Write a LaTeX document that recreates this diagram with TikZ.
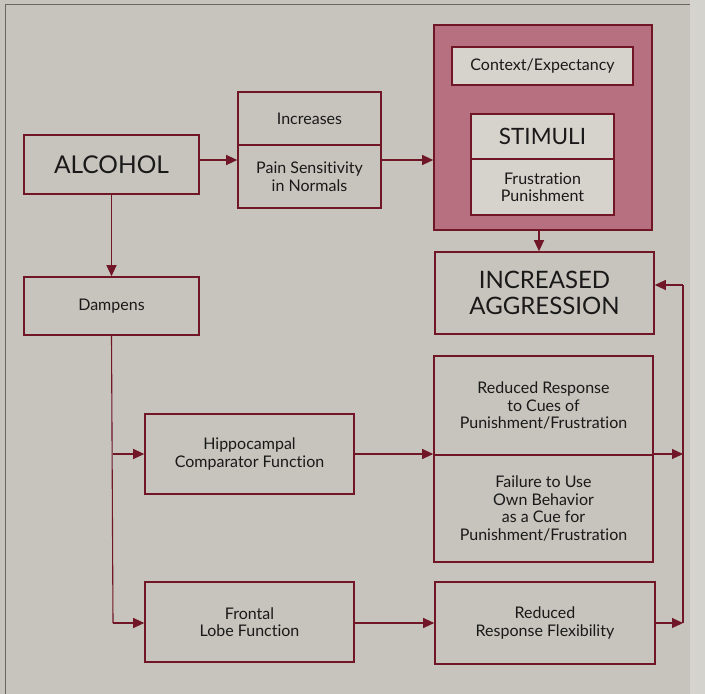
\documentclass[tikz,border=0pt]{standalone}
\usepackage{fontspec}
\setmainfont{Lato}[Ligatures=NoCommon]
\usetikzlibrary{arrows.meta}
\definecolor{paper}{RGB}{199,196,189}
\definecolor{paperlight}{RGB}{212,211,205}
\definecolor{wine}{RGB}{112,22,38}
\definecolor{rose}{RGB}{182,112,128}
\definecolor{innerfill}{RGB}{214,210,204}
\definecolor{framec}{RGB}{110,100,100}
\tikzset{
  box/.style={draw=wine, line width=1.6pt, fill=paper, rectangle, align=center, inner sep=0pt, text=black!90},
  inbox/.style={box, fill=innerfill},
  small/.style={font=\fontsize{16}{17.5}\selectfont},
  big/.style={font=\fontsize{24}{26}\selectfont},
  arr/.style={draw=wine, line width=1.1pt, -{Triangle[length=11pt,width=10pt]}},
  conn/.style={draw=wine, line width=1.1pt},
}
\begin{document}
\begin{tikzpicture}[x=1pt,y=-1pt]
\useasboundingbox (0,0) rectangle (705,694);
\fill[paper] (0,0) rectangle (705,694);
\fill[paperlight] (690,0) rectangle (705,694);
\draw[framec, line width=0.8pt] (5,694) -- (5,4) -- (690,4);

% left column
\node[box, font=\fontsize{24.5}{28}\selectfont, minimum width=175pt, minimum height=59pt] (alcohol) at (111.5,164.5) {ALCOHOL};
\node[box, small, minimum width=175pt, minimum height=58pt] (dampens) at (111.5,306) {Dampens};

% increases box
\node[box, small, minimum width=143pt, minimum height=53pt] (inc) at (309.5,118.5) {Increases};
\node[box, small, minimum width=143pt, minimum height=63pt] (pain) at (309.5,176.5) {Pain Sensitivity\\in Normals};

% stimuli group
\node[box, fill=rose, minimum width=218pt, minimum height=205pt] (outer) at (543,127.5) {};
\node[inbox, small, minimum width=181pt, minimum height=38pt] (context) at (542.5,66) {Context/Expectancy};
\node[inbox, font=\fontsize{22.5}{26}\selectfont, minimum width=143pt, minimum height=45pt] (stim) at (542.5,136.5) {STIMULI};
\node[inbox, small, minimum width=143pt, minimum height=56pt] (frust) at (542.5,187) {Frustration\\Punishment};

% aggression
\node[box, big, minimum width=219pt, minimum height=82pt] (agg) at (544.5,293) {INCREASED\\AGGRESSION};

% middle column
\node[box, small, minimum width=209pt, minimum height=80pt] (hippo) at (249.5,454) {Hippocampal\\Comparator Function};
\node[box, small, minimum width=209pt, minimum height=80pt] (frontal) at (249.5,622) {Frontal\\Lobe Function};

% right column
\node[box, small, minimum width=219pt, minimum height=99pt] (red) at (543.5,405.5) {Reduced Response\\to Cues of\\Punishment/Frustration};
\node[box, small, minimum width=219pt, minimum height=107pt] (fail) at (543.5,508.5) {Failure to Use\\Own Behavior\\as a Cue for\\Punishment/Frustration};
\node[box, small, minimum width=220pt, minimum height=82pt] (flex) at (545,623) {Reduced\\Response Flexibility};

% helper coordinates
\coordinate (y160) at (0,160);
\coordinate (y454) at (0,454);
\coordinate (y623) at (0,623);
\coordinate (rtop) at (683,285);
\coordinate (rmid) at (683,454);
\coordinate (rbot) at (683,623);
\coordinate (lmid) at (113,454);
\coordinate (lbot) at (113,623);

% connectors
\draw[arr] (alcohol.east |- y160) -- (pain.west |- y160);
\draw[arr] (pain.east |- y160) -- (outer.west |- y160);
\draw[arr] (alcohol.south) -- (dampens.north);
\draw[arr] (outer.south -| 539,0) -- (agg.north -| 539,0);
\draw[conn] (dampens.south) -- (lbot);
\draw[arr] (lmid) -- (hippo.west |- y454);
\draw[arr] (lbot) -- (frontal.west |- y623);
\draw[arr] (hippo.east |- y454) -- (red.west |- y454);
\draw[arr] (frontal.east |- y623) -- (flex.west |- y623);
\draw[arr] (red.east |- y454) -- (rmid);
\draw[arr] (flex.east |- y623) -- (rbot);
\draw[conn] (rbot) -- (rtop);
\draw[arr] (rtop) -- (agg.east |- rtop);
\end{tikzpicture}
\end{document}
